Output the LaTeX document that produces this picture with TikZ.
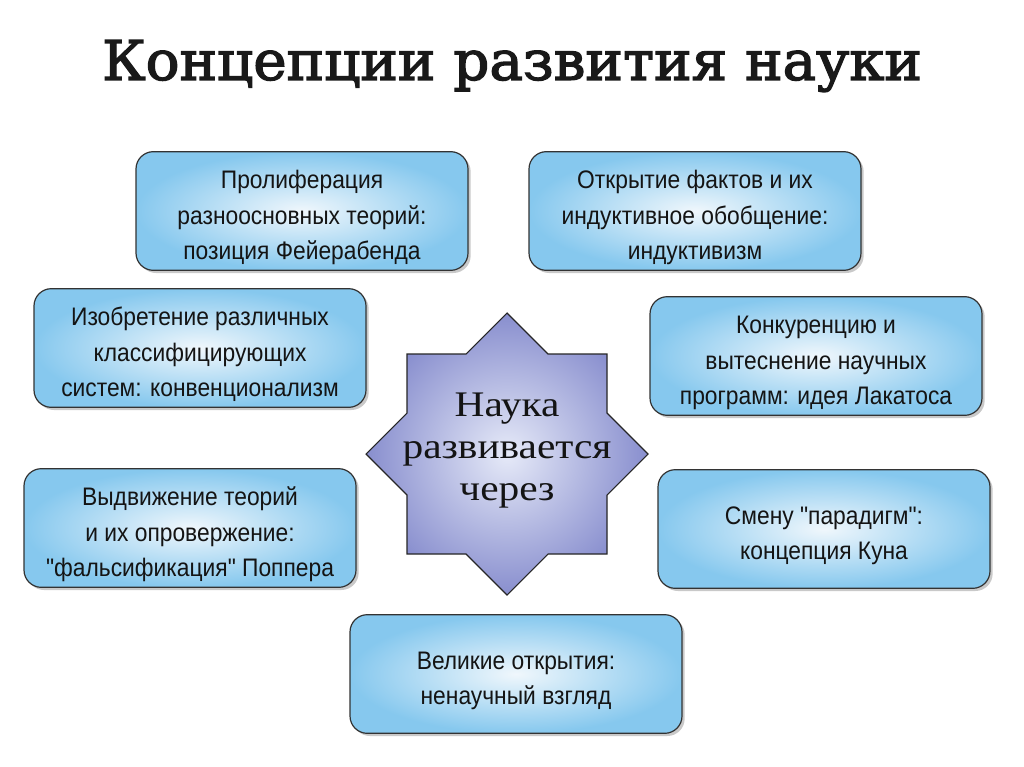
\documentclass[tikz,border=0pt]{standalone}
\usepackage{fontspec}
\usetikzlibrary{shadows}
\newfontfamily\boxfont[FakeStretch=0.9]{Liberation Sans}
\newfontfamily\titlefont[FakeStretch=1.03,FakeBold=2.4]{DejaVu Serif}
\newfontfamily\starfont[FakeStretch=1.15]{Liberation Serif}
\definecolor{boxouter}{RGB}{134,200,238}
\definecolor{boxinner}{RGB}{240,247,252}
\definecolor{starouter}{RGB}{136,142,206}
\definecolor{starinner}{RGB}{230,234,248}
\definecolor{txt}{RGB}{20,20,20}
\newcommand\boxtxt[1]{\raisebox{-9pt}[0pt][0pt]{\begin{tabular}{@{}c@{}}#1\end{tabular}}}
\tikzset{
  conc/.style={draw=black!80, line width=0.9pt, rounded corners=13pt,
    shading=radial, inner color=boxinner, outer color=boxouter,
    minimum width=249pt, minimum height=89pt, inner sep=0pt,
    text=txt,
    font=\boxfont\fontsize{19}{26.5}\selectfont,
    drop shadow={shadow xshift=2pt, shadow yshift=-2pt, opacity=0.35, fill=black!60}},
  starshape/.style={draw=black!85, line width=0.8pt, shading=radial,
    inner color=starinner, outer color=starouter},
}
\begin{document}
\begin{tikzpicture}[x=0.75pt,y=-0.75pt]
\useasboundingbox (0,0) rectangle (1024,767);
\fill[white] (0,0) rectangle (1024,767);
% title
\node[font=\titlefont\fontsize{41}{48}\selectfont, text=black!90] (title) at (512,66) {Концепции развития науки};
% boxes
\node[conc] (b1) at (302,211) {\boxtxt{Пролиферация\\разноосновных теорий:\\позиция Фейерабенда}};
\node[conc] (b2) at (695,211) {\boxtxt{Открытие фактов и их\\индуктивное обобщение:\\индуктивизм}};
\node[conc] (b3) at (200,348) {\boxtxt{Изобретение различных\\классифицирующих\\систем: конвенционализм}};
\node[conc] (b4) at (816,356) {\boxtxt{Конкуренцию и\\вытеснение научных\\программ: идея Лакатоса}};
\node[conc] (b5) at (190,528) {\boxtxt{Выдвижение теорий\\и их опровержение:\\"фальсификация" Поппера}};
\node[conc] (b6) at (824,529) {\boxtxt{Смену "парадигм":\\концепция Куна}};
\node[conc] (b7) at (516,674) {\boxtxt{Великие открытия:\\ненаучный взгляд}};
% star
\begin{scope}[shift={(507,454)}]
\path[starshape] (0,-141) -- (41,-100) -- (100,-100) -- (100,-41) -- (141,0)
  -- (100,41) -- (100,100) -- (41,100) -- (0,141) -- (-41,100) -- (-100,100)
  -- (-100,41) -- (-141,0) -- (-100,-41) -- (-100,-100) -- (-41,-100) -- cycle;
\end{scope}
\node[align=center, text=txt, font=\starfont\fontsize{27}{31.5}\selectfont] (star) at (507,451) {Наука\\развивается\\через};
\end{tikzpicture}
\end{document}
